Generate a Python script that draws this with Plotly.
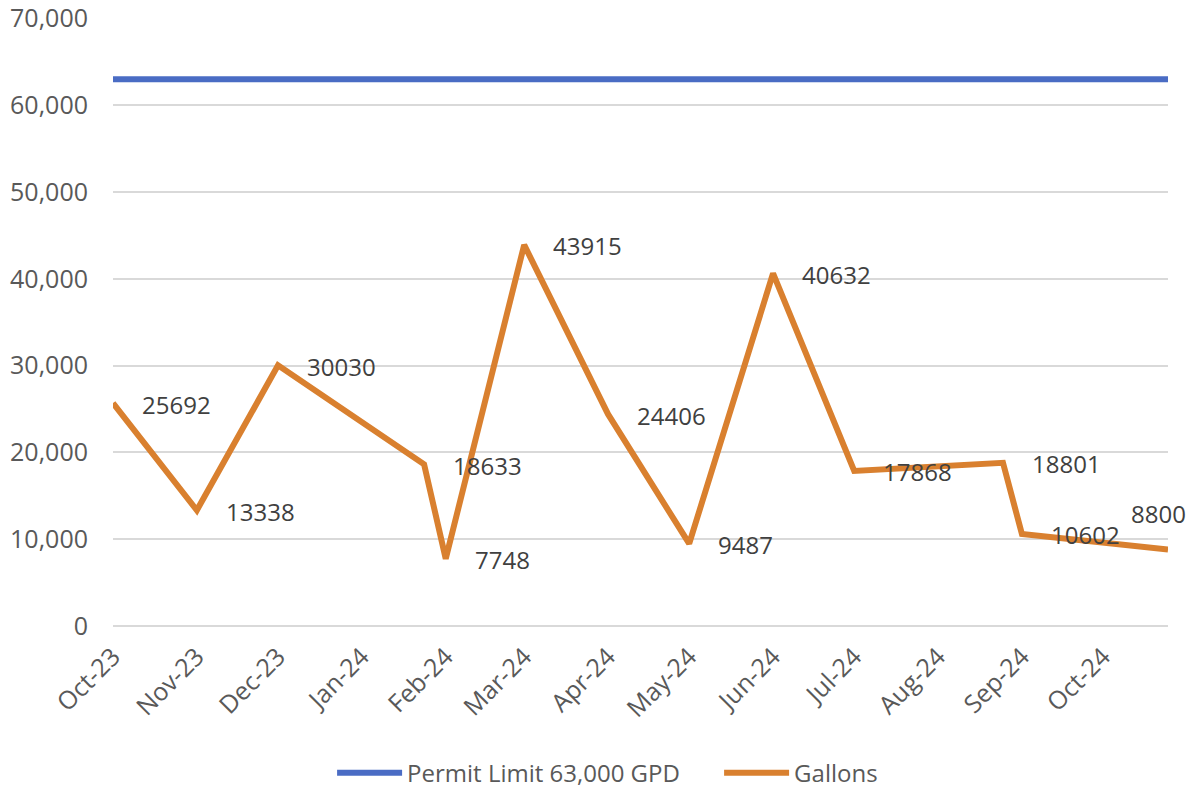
import plotly.graph_objects as go

# ---- data ----
dates = ["2023-10-01", "2023-11-01", "2023-12-01", "2024-01-24", "2024-02-01",
         "2024-03-01", "2024-04-01", "2024-05-01", "2024-06-01", "2024-07-01",
         "2024-08-25", "2024-09-01", "2024-10-25"]
gallons = [25692, 13338, 30030, 18633, 7748, 43915, 24406, 9487, 40632, 17868,
           18801, 10602, 8800]
permit_dates = ["2023-10-01", "2024-10-25"]
permit_limit = [63000, 63000]
tick_dates = ["2023-10-01", "2023-11-01", "2023-12-01", "2024-01-01", "2024-02-01",
              "2024-03-01", "2024-04-01", "2024-05-01", "2024-06-01", "2024-07-01",
              "2024-08-01", "2024-09-01", "2024-10-01"]
tick_labels = ["Oct-23", "Nov-23", "Dec-23", "Jan-24", "Feb-24", "Mar-24", "Apr-24",
               "May-24", "Jun-24", "Jul-24", "Aug-24", "Sep-24", "Oct-24"]
y_ticks = [0, 10000, 20000, 30000, 40000, 50000, 60000, 70000]

FONT = "Open Sans"
BLUE = "#4a6cc4"
ORANGE = "#d9802f"

fig = go.Figure()
fig.add_trace(go.Scatter(x=permit_dates, y=permit_limit, mode="lines",
                         name="Permit Limit 63,000 GPD",
                         line=dict(color=BLUE, width=6)))
fig.add_trace(go.Scatter(x=dates, y=gallons, mode="lines", name="Gallons",
                         line=dict(color=ORANGE, width=6)))

# data labels
for i, (d, v) in enumerate(zip(dates, gallons)):
    last = i == len(dates) - 1
    fig.add_annotation(x=d, y=v, text=str(v), showarrow=False,
                       xanchor="right" if last else "left",
                       yanchor="middle",
                       xshift=20 if last else 27,
                       yshift=36 if last else -1,
                       font=dict(family=FONT, size=24, color="#404040"))

fig.update_layout(
    width=1197, height=791,
    margin=dict(l=113, r=29, t=18, b=165, autoexpand=False),
    plot_bgcolor="white", paper_bgcolor="white",
    showlegend=True,
    legend=dict(orientation="h", x=0.5745, xanchor="center", y=-0.242, yanchor="middle",
                font=dict(family=FONT, size=24, color="#595959"),
                itemwidth=65, entrywidth=307, entrywidthmode="pixels"),
    xaxis=dict(type="date", range=[permit_dates[0], permit_dates[-1]],
               tickvals=tick_dates, ticktext=tick_labels, tickangle=-45,
               showgrid=False, zeroline=False, showline=False, ticks="",
               ticklabelstandoff=10, automargin=False, ticklabeloverflow="allow",
               tickfont=dict(family=FONT, size=25, color="#595959")),
    yaxis=dict(range=[0, 70060], tickvals=y_ticks, tickformat=",d",
               showgrid=True, gridcolor="#d9d9d9", gridwidth=2,
               zeroline=True, zerolinecolor="#d9d9d9", zerolinewidth=2,
               showline=False, ticks="", ticklabelstandoff=24, automargin=False,
               ticklabeloverflow="allow",
               tickfont=dict(family=FONT, size=25, color="#595959")),
)

fig.write_html("out.html", config={"displayModeBar": False},
               post_script="var s=document.documentElement.style;"
                           "s.margin='0';s.padding='0';s.overflow='hidden';s.height='791px';"
                           "var b=document.body.style;"
                           "b.margin='0';b.padding='0';b.overflow='hidden';b.height='791px';")
